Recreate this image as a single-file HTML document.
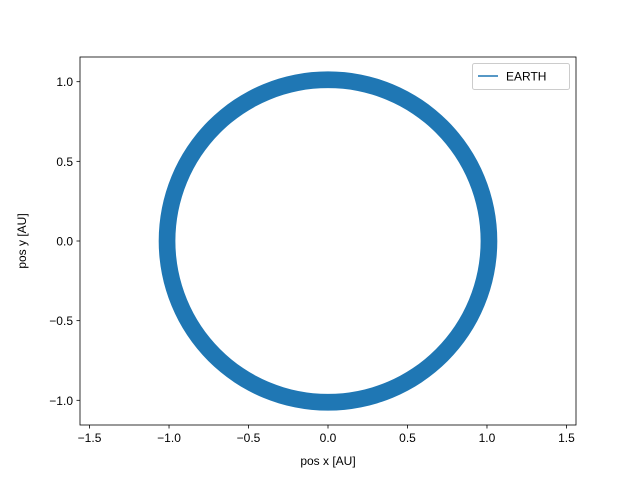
<!DOCTYPE html>
<html><head><meta charset="utf-8"><style>
body{margin:0;background:#fff;}
svg text{font-family:"Liberation Sans","DejaVu Sans",sans-serif;font-size:12px;fill:#000;}
</style></head><body>
<svg id="chart" width="640" height="478" viewBox="0 0 640 478" xmlns="http://www.w3.org/2000/svg"></svg>
<script>
const xTicks=[-1.5,-1.0,-0.5,0.0,0.5,1.0,1.5];
const xTickLabels=["\u22121.5","\u22121.0","\u22120.5","0.0","0.5","1.0","1.5"];
const yTicks=[-1.0,-0.5,0.0,0.5,1.0];
const yTickLabels=["\u22121.0","\u22120.5","0.0","0.5","1.0"];
const orbitCenter=[0.0,0.0];
const orbitInnerR=[0.96];
const orbitOuterR=[1.065];
const seriesNames=["EARTH"];

const L=80,R=576,T=57,B=425;
const xMin=-1.56,xMax=1.56,yMin=-1.155,yMax=1.155;
const sx=v=>L+(v-xMin)/(xMax-xMin)*(R-L);
const sy=v=>B-(v-yMin)/(yMax-yMin)*(B-T);
const svg=document.getElementById('chart');
const NS="http://www.w3.org/2000/svg";
function mk(tag,attrs,parent){const e=document.createElementNS(NS,tag);for(const k in attrs)e.setAttribute(k,attrs[k]);(parent||svg).appendChild(e);return e;}

const cx=sx(orbitCenter[0]),cy=sy(orbitCenter[1]);
const rIn=orbitInnerR[0],rOut=orbitOuterR[0];
const rxO=sx(rOut)-cx,ryO=cy-sy(rOut),rxI=sx(rIn)-cx,ryI=cy-sy(rIn);
const d=`M${cx-rxO},${cy}a${rxO},${ryO} 0 1,0 ${2*rxO},0a${rxO},${ryO} 0 1,0 ${-2*rxO},0Z`+
`M${cx-rxI},${cy}a${rxI},${ryI} 0 1,1 ${2*rxI},0a${rxI},${ryI} 0 1,1 ${-2*rxI},0Z`;
const ring=mk('path',{d:d,fill:'#1f77b4','fill-rule':'evenodd'});



const frame=mk('rect',{x:L,y:T,width:R-L,height:B-T,fill:'none',stroke:'#000','stroke-width':0.8});



xTicks.forEach((v,i)=>{const x=sx(v);
 const t=mk('line',{x1:x,x2:x,y1:B,y2:B+3.5,stroke:'#000','stroke-width':0.8});
 
 
 const l=mk('text',{x:x,y:B+17,'text-anchor':'middle'});l.textContent=xTickLabels[i];
 
 
});
yTicks.forEach((v,i)=>{const y=sy(v);
 const t=mk('line',{x1:L-3.5,x2:L,y1:y,y2:y,stroke:'#000','stroke-width':0.8});
 
 
 const l=mk('text',{x:L-7,y:y+4.5,'text-anchor':'end'});l.textContent=yTickLabels[i];
 
 
});
const xt=mk('text',{x:(L+R)/2,y:465,'text-anchor':'middle'});xt.textContent="pos x [AU]";


const yt=mk('text',{x:0,y:0,'text-anchor':'middle',transform:`translate(26,${(T+B)/2}) rotate(-90)`});yt.textContent="pos y [AU]";



const lg=mk('g',{});


mk('rect',{x:472.5,y:63.5,width:97,height:26,rx:2,fill:'#fff',stroke:'#ccc','stroke-width':1},lg);
const ll=mk('line',{x1:478,x2:498,y1:76,y2:76,stroke:'#1f77b4','stroke-width':1.5},lg);


const lt=mk('text',{x:506,y:80.5},lg);lt.textContent=seriesNames[0];


</script>
</body></html>
